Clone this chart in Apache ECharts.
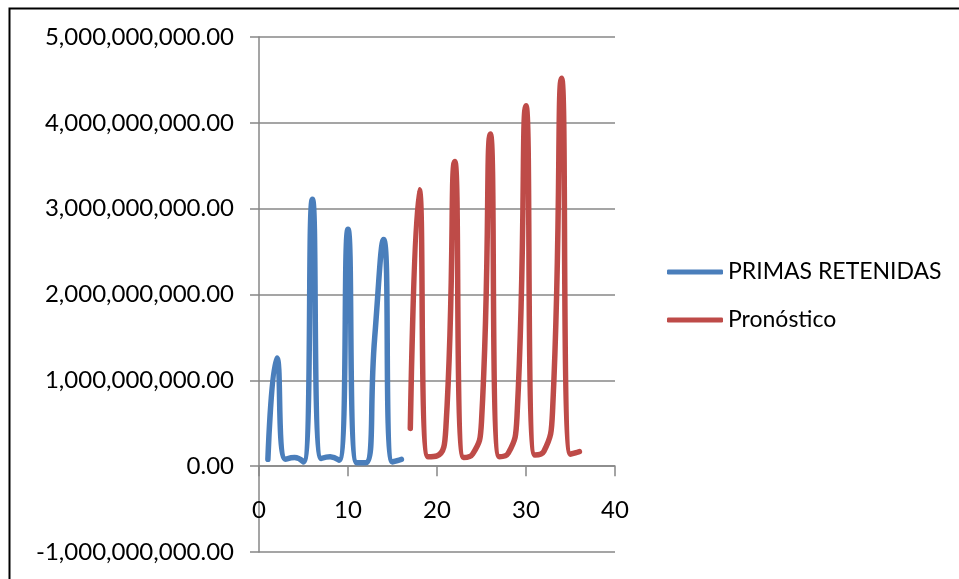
<!DOCTYPE html>
<html>
<head>
<meta charset="utf-8">
<script src="https://cdn.jsdelivr.net/npm/echarts@6/dist/echarts.min.js"></script>
<style>
  html, body { margin: 0; padding: 0; background: #fff; }
  #chart { width: 959px; height: 579px; }
</style>
</head>
<body>
<div id="chart"></div>
<script>
// Periods and premium amounts
const periodsRetained = [1, 2, 3, 4, 5, 6, 7, 8, 9, 10, 11, 12, 13, 14, 15, 16];
const primasRetenidas = [
  0.08e9, 1.26e9, 0.08e9, 0.10e9, 0.05e9, 3.11e9, 0.09e9, 0.11e9,
  0.07e9, 2.76e9, 0.04e9, 0.04e9, 1.50e9, 2.64e9, 0.05e9, 0.08e9
];

const periodsForecast = [17, 18, 19, 20, 21, 22, 23, 24, 25, 26, 27, 28, 29, 30, 31, 32, 33, 34, 35, 36];
const pronostico = [
  0.44e9, 3.22e9, 0.11e9, 0.12e9, 0.45e9, 3.55e9, 0.10e9, 0.14e9, 0.52e9, 3.87e9,
  0.11e9, 0.15e9, 0.60e9, 4.20e9, 0.13e9, 0.17e9, 0.68e9, 4.52e9, 0.14e9, 0.17e9
];

const seriesNames = ['PRIMAS RETENIDAS', 'Pronóstico'];
const xTicks = { min: 0, max: 40, interval: 10 };
const yTicks = { min: -1e9, max: 5e9, interval: 1e9 };

const pair = (xs, ys) => xs.map((x, i) => [x, ys[i]]);
const FONT = 'Lato, "Open Sans", "Liberation Sans", sans-serif';
const GRID_COLOR = '#878787';

// Plot box
const GRID = { left: 259, right: 344, top: 37, bottom: 27 };
const plotHeight = 579 - GRID.top - GRID.bottom;
// Lift the horizontal axis from the bottom edge up to the zero line of the value axis
const zeroLift = plotHeight * (0 - yTicks.min) / (yTicks.max - yTicks.min);

const chart = echarts.init(document.getElementById('chart'), null, { renderer: 'canvas' });

chart.setOption({
  backgroundColor: '#ffffff',
  animation: false,
  graphic: [{
    type: 'rect',
    left: 7, top: 6,
    shape: { width: 970, height: 590 },
    style: { fill: 'none', stroke: '#000', lineWidth: 2 },
    silent: true
  }],
  grid: Object.assign({ containLabel: false, outerBoundsMode: 'none' }, GRID),
  legend: {
    orient: 'vertical',
    left: 662,
    top: 254,
    itemWidth: 56,
    itemHeight: 5,
    itemGap: 22,
    icon: 'roundRect',
    textStyle: { fontFamily: FONT, fontSize: 23, color: '#000', lineHeight: 26 },
    data: seriesNames
  },
  xAxis: {
    type: 'value',
    position: 'bottom',
    offset: -zeroLift,
    min: xTicks.min, max: xTicks.max, interval: xTicks.interval,
    axisLine: { show: true, onZero: false, lineStyle: { color: GRID_COLOR, width: 1.5 } },
    axisTick: { show: true, inside: false, length: 10, lineStyle: { color: GRID_COLOR, width: 1.5 } },
    axisLabel: { margin: 32, fontFamily: FONT, fontSize: 24, color: '#000' },
    splitLine: { show: false }
  },
  yAxis: {
    type: 'value',
    min: yTicks.min, max: yTicks.max, interval: yTicks.interval,
    axisLine: { show: true, onZero: false, lineStyle: { color: GRID_COLOR, width: 1.5 } },
    axisTick: { show: true, inside: false, length: 9, lineStyle: { color: GRID_COLOR, width: 1.5 } },
    axisLabel: {
      margin: 25, fontFamily: FONT, fontSize: 24, color: '#000',
      formatter: v => v.toLocaleString('en-US', { minimumFractionDigits: 2, maximumFractionDigits: 2 })
    },
    splitLine: { show: true, lineStyle: { color: GRID_COLOR, width: 1.5 } }
  },
  series: [
    {
      name: seriesNames[0],
      type: 'line',
      data: pair(periodsRetained, primasRetenidas),
      smooth: 0.55,
      showSymbol: false,
      symbol: 'none',
      itemStyle: { color: '#4a7ebb' },
      lineStyle: { color: '#4a7ebb', width: 5.5, cap: 'round', join: 'round' }
    },
    {
      name: seriesNames[1],
      type: 'line',
      data: pair(periodsForecast, pronostico),
      smooth: 0.55,
      showSymbol: false,
      symbol: 'none',
      itemStyle: { color: '#be4b48' },
      lineStyle: { color: '#be4b48', width: 5.5, cap: 'round', join: 'round' }
    }
  ]
});
</script>
</body>
</html>
